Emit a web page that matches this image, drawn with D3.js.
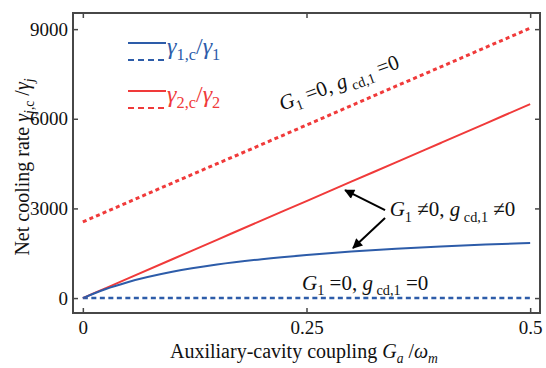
<!DOCTYPE html>
<html>
<head>
<meta charset="utf-8">
<script src="https://cdn.jsdelivr.net/npm/d3@7"></script>
<style>
  body { margin: 0; background: #fff; }
  svg { display: block; }
</style>
</head>
<body>
<div id="chart"></div>
<script>
// coupling G_a / omega_m
var gaValues = [0, 0.025, 0.05, 0.1, 0.15, 0.2, 0.25, 0.3, 0.35, 0.4, 0.45, 0.5];
// net cooling rates
var blueSolid = [0, 296, 530, 877, 1120, 1300, 1440, 1555, 1650, 1725, 1790, 1840];
var blueDotted = [0, 0, 0, 0, 0, 0, 0, 0, 0, 0, 0, 0];
var redSolid = [0, 325, 650, 1300, 1950, 2600, 3245, 3895, 4540, 5190, 5840, 6490];
var redDotted = [2550, 2875, 3200, 3850, 4495, 5140, 5790, 6440, 7090, 7735, 8385, 9030];
var xTicks = [0, 0.25, 0.5];
var xTickLabels = ["0", "0.25", "0.5"];
var yTicks = [0, 3000, 6000, 9000];

(function () {
  var W = 546, H = 368;
  var plotLeft = 73, plotRight = 540, plotTop = 13, plotBottom = 313;
  var blue = "#2d5ca9", red = "#f03a3a", frame = "#474747";
  var serif = "'Liberation Serif', 'Times New Roman', 'DejaVu Serif', serif";

  var svg = d3.select("#chart").append("svg")
    .attr("width", W)
    .attr("height", H)
    .style("font-family", serif);

  var x = d3.scaleLinear().domain([-0.011, 0.511]).range([plotLeft, plotRight]);
  var y = d3.scaleLinear().domain([-500, 9540]).range([plotBottom, plotTop]);

  var series = [
    { v: redDotted, color: red, width: 3, dash: "4,3.2" },
    { v: blueDotted, color: blue, width: 2.6, dash: "5,3.5" },
    { v: redSolid, color: red, width: 2, dash: null },
    { v: blueSolid, color: blue, width: 2, dash: null }
  ];

  var line = d3.line()
    .x(function (d) { return x(d[0]); })
    .y(function (d) { return y(d[1]); })
    .curve(d3.curveMonotoneX);

  svg.selectAll("path.series")
    .data(series)
    .enter()
    .append("path")
    .attr("class", "series")
    .attr("fill", "none")
    .attr("stroke", function (d) { return d.color; })
    .attr("stroke-width", function (d) { return d.width; })
    .attr("stroke-dasharray", function (d) { return d.dash; })
    .attr("d", function (d) {
      return line(gaValues.map(function (g, i) { return [g, d.v[i]]; }));
    });

  // axes, ticks point inwards
  function styleAxis(g) {
    g.attr("font-family", null).attr("font-size", null);
    g.select(".domain").remove();
    g.selectAll(".tick line").attr("stroke", frame).attr("stroke-width", 1.5);
    g.selectAll("text")
      .attr("fill", "#111")
      .style("font-family", serif)
      .style("font-size", "19px");
  }

  svg.append("g")
    .attr("transform", "translate(0," + plotBottom + ")")
    .call(d3.axisBottom(x).tickValues(xTicks).tickSize(-5).tickPadding(8)
      .tickFormat(function (d, i) { return xTickLabels[i]; }))
    .call(styleAxis);
  svg.append("g")
    .attr("transform", "translate(0," + plotTop + ")")
    .call(d3.axisTop(x).tickValues(xTicks).tickSize(-5).tickFormat(""))
    .call(styleAxis);
  svg.append("g")
    .attr("transform", "translate(" + plotLeft + ",0)")
    .call(d3.axisLeft(y).tickValues(yTicks).tickSize(-5).tickPadding(5)
      .tickFormat(d3.format("d")))
    .call(styleAxis);
  svg.append("g")
    .attr("transform", "translate(" + plotRight + ",0)")
    .call(d3.axisRight(y).tickValues(yTicks).tickSize(-5).tickFormat(""))
    .call(styleAxis);

  svg.append("rect")
    .attr("x", plotLeft).attr("y", plotTop)
    .attr("width", plotRight - plotLeft).attr("height", plotBottom - plotTop)
    .attr("fill", "none")
    .attr("stroke", frame)
    .attr("stroke-width", 2);

  // rich text helper: parts = [text, style] ; style: i italic, s subscript
  function rich(sel, parts, size) {
    var prevSub = false;
    sel.style("font-family", serif);
    parts.forEach(function (p) {
      var sub = p[1] && p[1].indexOf("s") >= 0;
      var t = sel.append("tspan").text(p[0]).style("font-family", serif);
      if (p[1] && p[1].indexOf("i") >= 0) t.style("font-style", "italic");
      t.style("font-size", (sub ? size * 0.68 : size) + "px");
      if (sub && !prevSub) t.attr("dy", size * 0.25);
      if (!sub && prevSub) t.attr("dy", -size * 0.25);
      prevSub = sub;
    });
  }

  // axis labels
  rich(svg.append("text")
    .attr("x", 170).attr("y", 358)
    .attr("fill", "#111"),
    [["Auxiliary-cavity coupling ", ""], ["G", "i"], ["a", "is"], [" /", ""], ["ω", "i"], ["m", "is"]], 20);

  rich(svg.append("text")
    .attr("transform", "translate(29,167) rotate(-90)")
    .attr("text-anchor", "middle")
    .attr("fill", "#111"),
    [["Net cooling rate ", ""], ["γ", "i"], ["j,", "is"], ["c", "s"], [" /", ""], ["γ", "i"], ["j", "is"]], 20);

  // legend
  var legend = [
    { color: blue, y: 43, idx: "1" },
    { color: red, y: 91, idx: "2" }
  ];
  legend.forEach(function (l) {
    svg.append("line").attr("x1", 128).attr("x2", 166).attr("y1", l.y).attr("y2", l.y)
      .attr("stroke", l.color).attr("stroke-width", 2);
    svg.append("line").attr("x1", 128).attr("x2", 166).attr("y1", l.y + 17).attr("y2", l.y + 17)
      .attr("stroke", l.color).attr("stroke-width", 2).attr("stroke-dasharray", "6,4");
    rich(svg.append("text").attr("x", 167).attr("y", l.y + 11).attr("fill", l.color),
      [["γ", "i"], [l.idx + ",c", "s"], ["/", ""], ["γ", "i"], [l.idx, "s"]], 24);
  });

  // annotations
  var zeroParts = [["G", "i"], ["1", "s"], [" =0, ", ""], ["g", "i"], [" cd,1", "s"], [" =0", ""]];
  var neParts = [["G", "i"], ["1", "s"], [" ≠0, ", ""], ["g", "i"], [" cd,1", "s"], [" ≠0", ""]];

  rich(svg.append("text")
    .attr("transform", "translate(" + x(0.2226) + "," + y(6270) + ") rotate(-20)")
    .attr("fill", "#111"), zeroParts, 21);

  rich(svg.append("text")
    .attr("x", x(0.245)).attr("y", y(270))
    .attr("fill", "#111"), zeroParts, 21);

  rich(svg.append("text")
    .attr("x", x(0.343)).attr("y", y(2730))
    .attr("fill", "#111"), neParts, 21);

  svg.append("defs").append("marker")
    .attr("id", "head")
    .attr("viewBox", "0 0 10 10")
    .attr("refX", 9).attr("refY", 5)
    .attr("markerWidth", 6).attr("markerHeight", 5)
    .attr("markerUnits", "strokeWidth")
    .attr("orient", "auto")
    .append("path").attr("d", "M0,0L10,5L0,10z").attr("fill", "#000");

  var arrows = [
    { from: [0.3378, 2943], to: [0.2931, 3612] },
    { from: [0.3378, 2676], to: [0.302, 1672] }
  ];
  svg.selectAll("line.arrow")
    .data(arrows)
    .enter()
    .append("line")
    .attr("class", "arrow")
    .attr("x1", function (d) { return x(d.from[0]); })
    .attr("y1", function (d) { return y(d.from[1]); })
    .attr("x2", function (d) { return x(d.to[0]); })
    .attr("y2", function (d) { return y(d.to[1]); })
    .attr("stroke", "#000")
    .attr("stroke-width", 2)
    .attr("marker-end", "url(#head)");
})();
</script>
</body>
</html>
